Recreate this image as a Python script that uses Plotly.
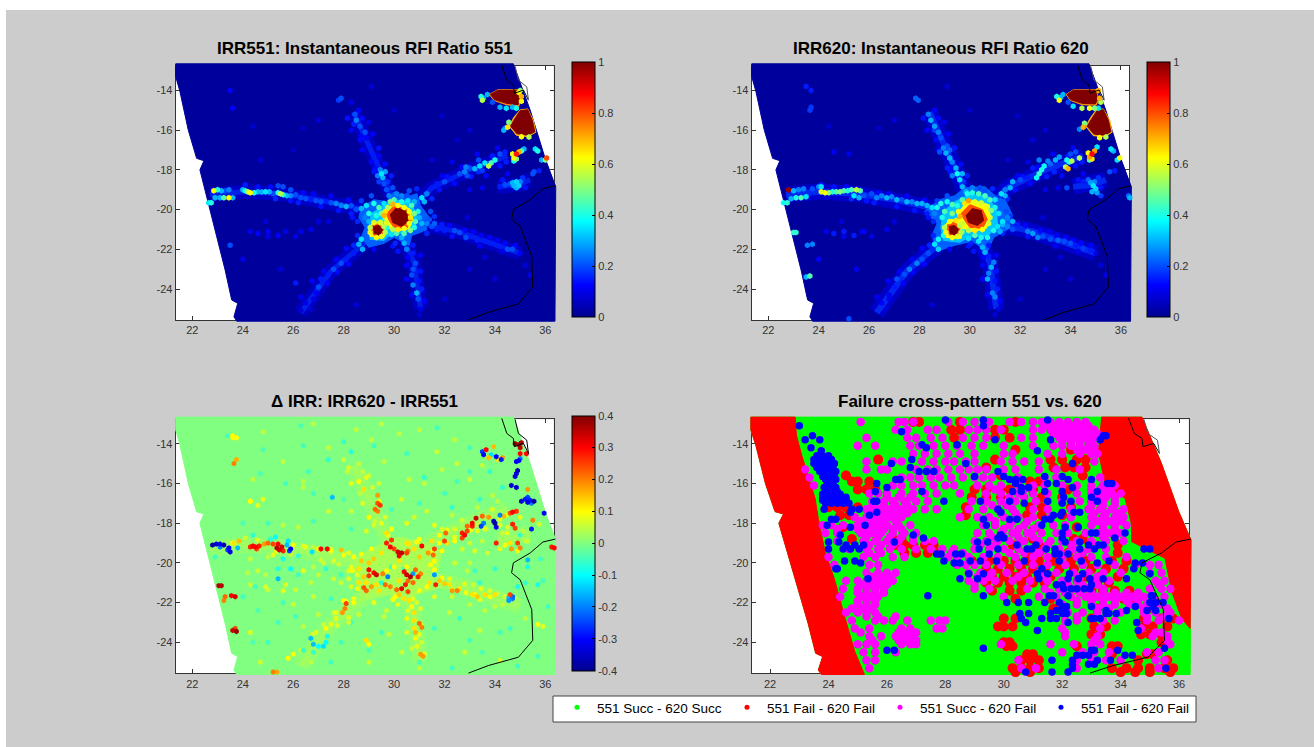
import plotly.graph_objects as go

# ---- geography / swath (lon, lat) ----
SWATH_X = [21.34,21.34,21.51,21.84,22.17,22.46,22.3,22.63,22.9,23.3,23.56,23.8,23.65,23.76,36.38,36.41,35.99,35.4,34.73,21.34]
SWATH_Y = [-12.66,-13.3,-14.07,-16,-17.42,-17.54,-18,-19.7,-21.03,-23.04,-24.55,-24.72,-25.4,-25.62,-25.62,-18.85,-17.42,-15,-12.66,-12.66]
BORDER_X = [36.4,35.9,35.4,34.73,34.66,35.0,35.46,35.5,34.93,33.74,32.95]
BORDER_Y = [-18.8,-18.95,-19.5,-20.0,-20.5,-20.85,-22.35,-23.9,-24.75,-25.17,-25.55]
COAST_A_X = [34.27,34.47,34.73,34.77,35.13,35.33]
COAST_A_Y = [-12.72,-13.48,-13.73,-14.15,-13.98,-14.49]
COAST_B_X = [34.8,34.93,35.26,35.33]
COAST_B_Y = [-12.78,-13.48,-13.82,-14.49]

# ---- diffuse interference rays (lon, lat) ----
RAY_W = [(22.7,-19.25),(24,-19.1),(25.5,-19.2),(27,-19.5),(28.8,-20)]
RAY_N = [(30,-19.6),(29.5,-18.2),(28.9,-16.4),(28.4,-15.1)]
RAY_NE = [(30.8,-19.8),(31.5,-18.9),(33,-18),(34.5,-17.3)]
RAY_SE = [(31,-20.7),(32.5,-21.1),(35,-22.2)]
RAY_S = [(30.3,-21.3),(30.8,-22.7),(31.05,-25)]
RAY_SW = [(29,-21.5),(27.5,-23.1),(26.3,-25.2)]
RAY_E = [(34.1,-18.85),(34.9,-18.75),(35.4,-18.5)]
RAYS = [RAY_W,RAY_N,RAY_NE,RAY_SE,RAY_S,RAY_SW,RAY_E]

# ---- contour patches: (colour, [(lon, lat), ...]) ----
PATCH_551 = [("#0060ff",[(28.7,-19.9),(29.2,-19.5),(29.7,-19.6),(30,-19.1),(30.4,-19.4),(30.9,-19.2),(31.05,-19.8),(31.4,-20.4),(31.1,-20.7),(31.15,-21.1),(30.7,-21.3),(30.6,-21.8),(30,-21.4),(29.6,-21.7),(29,-21.9),(28.7,-21.4),(28.85,-20.9),(28.6,-20.4)]),
("#00c8ff",[(29.1,-20.2),(29.5,-19.9),(30,-19.5),(30.6,-19.6),(30.9,-20.2),(30.85,-20.9),(30.4,-21.2),(29.9,-21.2),(29.6,-21.55),(29.05,-21.5),(29,-20.9)]),
("#ffff00",[(29.55,-20.2),(30,-19.65),(30.6,-19.95),(30.75,-20.5),(30.6,-20.95),(30.1,-21.1),(29.75,-20.9),(29.6,-21.4),(29.05,-21.35),(28.98,-20.9),(29.2,-20.65),(29.6,-20.6)]),
("#ff5000",[(29.7,-20.2),(30,-19.8),(30.5,-20),(30.7,-20.5),(30.5,-20.95),(30,-20.9),(29.8,-20.55)]),
("#ff5000",[(29.12,-20.8),(29.4,-20.7),(29.6,-20.95),(29.55,-21.25),(29.25,-21.35),(29.08,-21.1)]),
("#800000",[(29.85,-20.25),(30.1,-19.9),(30.5,-20.1),(30.55,-20.6),(30.3,-20.85),(29.95,-20.65)]),
("#800000",[(29.18,-20.85),(29.4,-20.8),(29.55,-21),(29.42,-21.3),(29.22,-21.2)]),
("#ff9000",[(33.78,-14.2),(34.1,-13.97),(34.9,-13.97),(35.02,-14.4),(34.95,-14.8),(34.45,-14.72),(33.95,-14.5)]),
("#800000",[(33.82,-14.2),(34.1,-14),(34.88,-14),(34.98,-14.4),(34.92,-14.72),(34.45,-14.65),(33.98,-14.46)]),
("#ffb000",[(34.75,-15.35),(35.0,-14.98),(35.3,-14.93),(35.52,-15.5),(35.62,-16.1),(35.3,-16.33),(34.85,-16.26),(34.57,-15.8)]),
("#800000",[(34.8,-15.4),(35.0,-15.02),(35.3,-14.97),(35.48,-15.5),(35.58,-16.08),(35.3,-16.26),(34.87,-16.18),(34.62,-15.8)])]
PATCH_620 = [("#0060ff",[(28.2,-20.1),(28.8,-19.5),(29.4,-19.3),(29.8,-18.9),(30.6,-18.85),(31.1,-19.4),(31.4,-19.5),(31.7,-20.3),(31.5,-21),(30.95,-21.4),(30.7,-22.1),(30.1,-21.6),(29.4,-21.8),(28.7,-22.1),(28.5,-21.3),(28.7,-20.7)]),
("#00c8ff",[(28.95,-20.1),(29.4,-19.6),(30,-19.25),(30.7,-19.3),(31.05,-20),(31.1,-20.8),(30.7,-21.35),(30,-21.35),(29.6,-21.65),(28.95,-21.55),(28.85,-20.9)]),
("#ffff00",[(29.5,-20.2),(29.95,-19.5),(30.65,-19.7),(30.85,-20.4),(30.65,-20.95),(30.1,-21.1),(29.75,-20.95),(29.65,-21.45),(29.05,-21.4),(28.95,-20.9),(29.2,-20.5),(29.6,-20.5)]),
("#ff5000",[(29.65,-20.2),(30,-19.75),(30.5,-20),(30.7,-20.5),(30.5,-20.95),(30,-20.9),(29.8,-20.55)]),
("#ff5000",[(29.12,-20.75),(29.4,-20.6),(29.6,-20.95),(29.55,-21.25),(29.25,-21.35),(29.08,-21.1)]),
("#800000",[(29.85,-20.3),(30.1,-19.95),(30.45,-20.05),(30.55,-20.55),(30.3,-20.8),(29.95,-20.65)]),
("#800000",[(29.18,-20.85),(29.4,-20.8),(29.55,-21),(29.42,-21.3),(29.22,-21.2)]),
("#ff9000",[(33.82,-14.2),(34.1,-13.97),(35.0,-13.97),(35.12,-14.4),(35.02,-14.75),(34.45,-14.72),(33.98,-14.5)]),
("#800000",[(33.86,-14.2),(34.1,-14),(34.98,-14),(35.08,-14.4),(34.98,-14.68),(34.45,-14.65),(34.0,-14.46)]),
("#ffb000",[(34.8,-15.35),(35.02,-14.98),(35.3,-14.93),(35.55,-15.5),(35.65,-16.1),(35.35,-16.33),(34.9,-16.28),(34.6,-15.8)]),
("#800000",[(34.85,-15.4),(35.05,-15.02),(35.3,-14.97),(35.5,-15.5),(35.6,-16.08),(35.33,-16.26),(34.92,-16.2),(34.66,-15.8)])]
PATCH_DELTA = [("#a8ff58",[(28.4,-19.8),(29.4,-19.1),(30.2,-18.7),(31,-18.9),(31.9,-19.4),(31.7,-20.6),(31.9,-21.2),(30.9,-21.6),(30.4,-21.9),(29.8,-21.6),(28.7,-21.9),(28.5,-21)])]

# ---- band speckle shared by the ratio maps: (lon, lat, ratio, delta) ----
SPECKLE = [(24.1,-18.75,.15,.06),(24.6,-18.85,.14,.07),(25.1,-18.85,.13,-.05),(25.3,-19.45,.16,.08),(25.9,-19.55,.14,.06),(26.4,-19.15,.13,.07),(26.2,-19.65,.15,-.06),(26.8,-19.2,.12,.05),(27.1,-19.85,.14,.06),(27.5,-19.3,.12,.07),(27.8,-20.05,.14,.06),(28.2,-19.5,.13,.08),(28.3,-20.2,.15,.08),
(29.2,-18.1,.14,.07),(29.25,-17.9,.13,.06),(29.75,-18.6,.17,.09),(29.9,-18.3,.15,.08),(29.65,-17.7,.13,.07),(29.4,-16.9,.14,.1),(28.75,-17,.12,.07),(28.65,-16.5,.13,.05),(29.15,-16.2,.12,.06),(28.3,-16,.12,.08),(28.15,-15.4,.14,.06),(28.75,-15.4,.13,.05),(28.6,-15,.12,.05),(29,-15.6,.1,.06),
(31.5,-19.45,.16,.09),(31.8,-19,.14,.1),(32.1,-18.35,.14,.09),(31.9,-18.3,.12,.07),(32.4,-18.7,.13,.08),(32.7,-17.85,.13,.06),(33.05,-18.35,.15,.09),(33.35,-18.1,.16,.07),(33.65,-18.3,.13,.06),(33.9,-17.3,.15,.07),(34.2,-17.8,.14,.08),(34.45,-17.6,.15,.08),(34.1,-16.9,.12,.05),(33.3,-17.2,.12,.05),(32.3,-17.6,.1,.05),
(31.6,-20.35,.17,.1),(31.9,-20.75,.15,.1),(32.2,-20.8,.13,.08),(32.3,-21.35,.14,.1),(32.8,-21.05,.13,.07),(33.15,-21.1,.12,.06),(33.45,-21.3,.12,.08),(33.4,-21.85,.12,.08),(33.8,-21.4,.12,.07),(34.1,-21.55,.12,.06),(34.4,-21.7,.13,.07),(34.8,-21.8,.12,.05),(34.3,-22.1,.1,.05),
(30.05,-21.7,.16,.1),(30.15,-22.1,.14,.08),(30.75,-21.8,.15,.08),(30.55,-22.4,.12,.07),(31.05,-22.3,.12,.07),(30.5,-22.8,.12,.08),(31.05,-23.1,.14,.09),(30.5,-23.5,.12,.07),(31,-23.6,.14,.08),(31.1,-24,.15,.06),(30.7,-24.3,.12,.06),(31.2,-24.6,.12,.08),(31,-25.3,.08,.05),
(28.55,-21.3,.16,.09),(28.4,-21.8,.16,.09),(28.1,-21.95,.13,.1),(28.2,-22.75,.13,.07),(27.7,-22.5,.12,.08),(27.75,-23.15,.13,.07),(27.2,-23.1,.12,.06),(27.35,-23.7,.12,-.08),(26.75,-23.6,.12,.06),(26.8,-24.5,.1,-.06),(26.3,-24.4,.1,.06),(26.7,-25,.08,.05),
(29.1,-19.3,.2,.1),(28.7,-19.55,.18,.09),(30.6,-19.05,.2,.12),(30.9,-18.95,.16,.1),(31.45,-20.1,.2,.1),(31.3,-21.2,.16,.1),(28.55,-20.6,.16,.08),(28.35,-20.4,.14,.09),(29.95,-21.85,.14,.1),(29.2,-22,.12,.08),
(35.1,-18.4,.17,.05),(35.2,-18.9,.14,.06),(34.5,-18.2,.12,.07),(34.3,-18.5,.14,.06),(35.75,-18.05,.15,.07),(33.5,-18.9,.1,.05),(33,-19,.1,.06),
(25,-21.35,.1,.06),(25.7,-21.1,.1,.07),(26.1,-21.35,.1,.06),(24.3,-21.1,.1,.05),(26.7,-21,.1,.05),(27,-20.6,.08,.05),(24.9,-20.6,.08,.05),(33.6,-22.4,.08,.05),(32.9,-20.4,.08,.05),(35.2,-22.8,.08,.05),(29.1,-13.8,.08,.05),(24.4,-15.8,.07,.05),(31.9,-15.3,.07,.05),(26.4,-15.9,.07,.05)]

# ---- IRR551 (lon, lat, ratio) ----
WEST_551 = [(22.85,-19.05,.62),(23.0,-19.0,.4),(23.15,-19.05,.3),(23.3,-19.05,.2),(23.45,-19.0,.25),(22.9,-19.4,.3),(23.1,-19.4,.3),(23.25,-19.4,.45),(23.45,-19.4,.62),(23.6,-19.4,.3),(22.75,-19.65,.4),(22.65,-19.65,.35),
(24.0,-19.0,.3),(24.1,-19.05,.4),(24.2,-19.1,.55),(24.3,-19.15,.62),(24.45,-19.15,.4),(24.6,-19.1,.3),(24.75,-19.12,.3),(24.9,-19.1,.35),(25.05,-19.1,.3),(25.2,-19.2,.2),(25.4,-19.15,.4),(25.5,-19.2,.55),(25.6,-19.25,.4),(25.75,-19.3,.3),(25.9,-19.3,.25),(25.6,-18.85,.2),(25.4,-18.8,.2),(25.9,-19.0,.2),(26.1,-19.25,.2),(26.3,-19.4,.2),(26.5,-19.45,.2),(26.7,-19.5,.15),(26.9,-19.55,.2),(27.1,-19.6,.2),(27.3,-19.6,.15),(27.5,-19.65,.2),(27.7,-19.7,.25),(27.9,-19.8,.25),(28.1,-19.85,.3),(28.3,-19.8,.2),(28.5,-20.0,.2),(28.7,-19.95,.3)]
HUB_551 = [(28.9,-19.8,.35),(29.0,-20.2,.4),(29.0,-20.6,.3),(28.85,-20.4,.25),(29.2,-19.7,.4),(29.4,-19.9,.45),(29.3,-20.3,.4),(29.5,-20.2,.5),(29.6,-19.7,.35),(29.85,-19.6,.5),(30.0,-19.5,.45),(30.3,-19.6,.4),(30.55,-19.55,.35),(30.7,-19.8,.45),(30.8,-20.2,.5),(30.95,-20.1,.4),(31.0,-20.4,.3),(30.85,-20.6,.45),(30.8,-20.9,.4),(30.65,-21.05,.5),(30.4,-21.2,.45),(30.1,-21.2,.45),(29.9,-21.25,.35),(29.7,-20.9,.4),(29.55,-20.6,.4),
(29.75,-19.9,.55),(29.95,-19.75,.7),(30.15,-19.8,.62),(30.4,-19.9,.62),(30.6,-20.1,.62),(30.65,-20.4,.65),(30.6,-20.7,.62),(30.4,-20.95,.62),(30.15,-21.0,.65),(29.95,-21.0,.55),(29.7,-20.65,.6),(29.6,-20.3,.7),(29.65,-20.1,.65),
(29.05,-20.9,.55),(29.05,-21.15,.6),(29.2,-20.65,.6),(29.45,-20.65,.6),(29.6,-20.85,.55),(29.65,-21.15,.55),(29.5,-21.35,.6),(29.3,-21.4,.62)]
NORTH_551 = [(29.8,-19.3,.25),(29.7,-19.0,.2),(29.6,-18.7,.2),(29.55,-18.4,.3),(29.5,-18.2,.35),(29.45,-18.0,.25),(29.3,-17.6,.15),(29.15,-17.2,.15),(29.0,-16.8,.15),(28.9,-16.4,.12),(28.85,-16.1,.2),(28.65,-15.8,.2),(28.5,-15.5,.25),(28.45,-15.2,.2),(28.3,-14.6,.1),(27.9,-14.4,.2),(27.8,-14.5,.18),(29.95,-18.9,.2),(30.1,-19.2,.25),(30.3,-19.3,.25),(30.5,-19.3,.2),(29.35,-18.3,.25),(29.65,-18.1,.28),(29.4,-18.6,.18),(29.1,-17.6,.12),(29.4,-17.3,.12),(28.7,-16.3,.12),(28.4,-15.7,.15)]
NEAST_551 = [(30.8,-19.6,.3),(31.1,-19.4,.35),(31.3,-19.2,.25),(31.2,-19.6,.3),(31.5,-18.9,.15),(31.7,-18.7,.15),(32.0,-18.6,.2),(32.3,-18.45,.15),(32.6,-18.2,.2),(32.8,-18.1,.25),(33.0,-17.9,.2),(33.2,-17.95,.3),(33.4,-17.8,.35),(33.6,-17.65,.35),(33.75,-17.8,.55),(33.85,-17.65,.45),(34.0,-17.5,.4),(34.2,-17.2,.2),(34.4,-17.1,.15),(32.85,-17.85,.25),(33.35,-17.5,.2),(32.9,-18.3,.2),(33.5,-18.05,.18)]
NECLUSTER_551 = [(34.75,-17.4,.62),(34.85,-17.2,.85),(34.95,-17.1,.7),(34.7,-17.2,.6),(34.85,-17.45,.5),(34.75,-17.55,.4),(35.05,-17.05,.45),(35.15,-16.95,.3),(35.6,-16.95,.35),(35.7,-17.05,.4),(35.85,-17.5,.3),(36.0,-17.5,.5),(36.05,-17.4,.8),(34.35,-16.0,.3),(34.4,-15.9,.25),(35.55,-18.1,.2),
(34.7,-18.65,.3),(34.85,-18.6,.33),(34.95,-18.8,.33),(34.85,-18.9,.3),(34.6,-18.7,.2),(34.4,-18.75,.2),(34.2,-18.85,.15),(35.5,-18.2,.2),(34.75,-18.8,.3),(35.0,-18.6,.25)]
BLOBS_551 = [(33.45,-14.3,.4),(33.5,-14.5,.55),(33.55,-14.4,.3),(33.7,-14.2,.3),(34.95,-14.1,.62),(35.0,-14.0,.5),(35.05,-14.3,.7),(35.05,-14.55,.62),(33.9,-14.6,.2),(34.2,-14.85,.3),(34.45,-14.9,.35),(34.7,-14.85,.3),(34.85,-14.9,.4),(34.55,-15.6,.5),(34.5,-15.85,.65),(35.05,-16.33,.62),(35.35,-16.35,.55)]
RAYS_551 = [(31.1,-20.7,.3),(31.3,-20.7,.25),(31.5,-20.85,.2),(31.7,-21,.15),(32,-21.05,.15),(32.4,-21.05,.2),(32.6,-21.15,.2),(32.85,-21.4,.2),(33.05,-21.35,.15),(33.3,-21.55,.15),(33.6,-21.6,.15),(33.9,-21.7,.15),(34.2,-21.85,.15),(34.5,-22,.2),(34.7,-22,.2),(35,-22.2,.12),(31.4,-20.5,.2),(31.6,-20.7,.22),(31.2,-20.95,.22),
(30.3,-21.4,.3),(30.4,-21.7,.3),(30.5,-22,.25),(30.75,-22.2,.15),(30.85,-22.7,.2),(30.75,-23,.2),(30.7,-23.3,.2),(30.75,-23.8,.25),(30.9,-24.2,.3),(30.95,-24.5,.2),(31.05,-25,.1),
(28.7,-21.5,.35),(28.6,-21.75,.3),(28.75,-22,.3),(28.4,-22.2,.15),(28.1,-22.5,.15),(27.9,-22.7,.2),(27.6,-23,.2),(27.4,-23.3,.15),(27.1,-23.5,.15),(27,-23.9,.2),(26.9,-24.2,.12),(26.5,-24.7,.1),(26.3,-25.1,.08),
(24.6,-21.2,.12),(25,-21.1,.12),(25.4,-21.3,.12),(23.5,-21.8,.2),(24,-22.5,.1),(26.1,-23.7,.15),(26.3,-21.1,.1),(27.4,-20.6,.08),
(23.5,-14,.12),(23.6,-14.9,.12),(27.0,-15.5,.08),(26,-17,.06),(31.5,-17.5,.08),(32.5,-16.5,.07),(33,-16,.08),(30,-15,.07),(33,-23,.08),(34,-23.5,.08),(35.4,-23.3,.1),(32,-24.5,.07),(28.5,-24.8,.08),(25.5,-23,.08),(24.7,-17.5,.07)]

# ---- IRR620 ----
WEST_620 = [(22.8,-19.0,.98),(23.0,-19.05,.3),(23.2,-19.0,.25),(23.4,-18.95,.25),(22.9,-19.45,.3),(23.1,-19.4,.4),(23.3,-19.4,.45),(23.5,-19.35,.35),(22.75,-19.65,.42),(22.6,-19.65,.38),(23.75,-18.95,.2),(24.0,-18.85,.25),(24.1,-18.85,.35),
(24.1,-19.1,.6),(24.25,-19.15,.62),(24.4,-19.15,.5),(24.55,-19.1,.4),(24.7,-19.1,.45),(24.85,-19.1,.5),(25.0,-19.05,.45),(25.15,-19.05,.4),(25.3,-19.0,.45),(25.5,-19.0,.55),(25.65,-19.05,.45),(25.4,-19.3,.35),(25.6,-19.4,.3),(25.8,-19.3,.2),(26.1,-19.2,.2),(26.3,-19.4,.25),(26.5,-19.3,.25),(26.7,-19.4,.3),(26.9,-19.35,.25),(27.1,-19.5,.3),(27.3,-19.5,.2),(27.5,-19.6,.3),(27.7,-19.6,.25),(27.9,-19.7,.3),(28.1,-19.7,.3),(28.3,-19.8,.3),(28.5,-19.9,.35),(28.7,-19.9,.4)]
HUB_620 = [(28.6,-20.2,.25),(28.85,-19.7,.4),(29.0,-20.1,.45),(28.9,-20.4,.4),(29.1,-19.6,.38),(29.3,-19.75,.45),(29.3,-20.2,.5),(29.5,-19.8,.4),(29.7,-19.5,.45),(29.9,-19.2,.4),(30.1,-19.15,.4),(30.35,-19.2,.45),(30.6,-19.3,.45),(30.8,-19.5,.45),(31.0,-19.9,.4),(31.15,-20.2,.35),(31.3,-20.6,.35),(31.1,-20.85,.35),(31.2,-21.1,.3),(30.95,-21.05,.4),(30.7,-21.4,.4),(30.45,-21.4,.4),(30.2,-21.3,.45),(29.95,-21.45,.35),(29.7,-21.1,.45),
(29.8,-19.7,.65),(29.95,-19.55,.72),(30.2,-19.6,.6),(30.45,-19.65,.58),(30.7,-19.85,.6),(30.85,-20.05,.5),(30.8,-20.4,.6),(30.75,-20.7,.58),(30.5,-21.0,.62),(30.2,-21.05,.65),(29.95,-21.05,.55),(29.7,-20.7,.58),(29.6,-20.35,.7),(29.55,-20.1,.62),
(29.0,-20.9,.55),(29.05,-21.15,.6),(29.2,-20.6,.62),(29.45,-20.55,.65),(29.6,-20.8,.55),(29.65,-21.15,.55),(29.5,-21.35,.6),(29.3,-21.4,.62),(28.95,-21.3,.4)]
NORTH_620 = [(29.85,-19.1,.3),(29.7,-18.85,.3),(29.6,-18.5,.35),(29.5,-18.2,.38),(29.45,-17.9,.3),(29.3,-17.6,.25),(29.2,-17.4,.3),(29.05,-17.15,.3),(28.95,-16.9,.25),(29.1,-16.8,.2),(28.85,-16.4,.2),(28.75,-16.1,.25),(28.6,-15.8,.28),(28.45,-15.5,.3),(28.35,-15.2,.25),(27.85,-14.4,.22),(27.95,-14.5,.22),(29.1,-17.9,.15),(30.1,-18.9,.25),(30.4,-18.9,.2),(29.3,-18.3,.25),(29.7,-18.2,.3),(29.2,-17,.22),(28.8,-17.1,.2),(28.6,-16,.18)]
NEAST_620 = [(31.0,-19.5,.35),(31.25,-19.2,.35),(31.4,-19.0,.25),(31.6,-18.9,.3),(31.7,-18.6,.3),(32.0,-18.5,.2),(32.3,-18.4,.15),(32.65,-18.4,.38),(32.75,-18.2,.42),(32.85,-18.0,.4),(32.95,-17.8,.38),(33.1,-17.55,.25),(32.75,-17.5,.25),(33.4,-17.5,.3),(33.55,-17.35,.28),(33.8,-17.85,.55),(33.9,-17.95,.7),(33.85,-17.5,.4),(34.05,-17.55,.55),(34.35,-17.4,.55),(34.2,-17.1,.2),(32.5,-17.9,.15),(33.2,-17.7,.22),(34.0,-17.2,.2),(31.4,-19.3,.3)]
NECLUSTER_620 = [(34.75,-17.35,.72),(34.85,-17.2,.88),(34.95,-17.05,.72),(34.7,-17.15,.62),(34.85,-17.45,.65),(34.75,-17.5,.45),(35.05,-16.85,.35),(35.6,-16.95,.35),(35.7,-17.05,.3),(35.85,-17.5,.35),(35.95,-17.4,.62),(34.35,-15.95,.25),(35.55,-18.1,.2),(33.95,-17.6,.4),
(34.8,-18.65,.28),(34.9,-18.8,.35),(35.0,-18.95,.33),(34.85,-19.1,.3),(34.7,-18.5,.22),(34.5,-18.6,.15),(33.85,-18.9,.2),(35.2,-19.3,.18),(36.35,-19.4,.3),(36.3,-19.3,.22),(34.95,-18.6,.25),(35.05,-19.15,.28)]
BLOBS_620 = [(33.45,-14.3,.4),(33.55,-14.5,.62),(33.6,-14.35,.3),(33.7,-14.2,.3),(35.1,-14.0,.7),(35.15,-14.4,.7),(35.2,-14.6,.55),(33.9,-14.6,.2),(34.1,-14.8,.35),(34.45,-14.9,.55),(34.75,-14.9,.62),(34.95,-14.9,.5),(35.1,-14.9,.35),(34.55,-15.65,.5),(34.5,-15.85,.7),(35.15,-16.38,.62),(35.4,-16.35,.55)]
RAYS_620 = [(31.3,-20.75,.3),(31.5,-20.85,.25),(31.7,-21,.2),(32.3,-21.1,.25),(32.5,-21.2,.28),(32.7,-21.4,.25),(32.9,-21.35,.2),(33.2,-21.5,.2),(33.5,-21.55,.22),(33.75,-21.6,.2),(34.0,-21.7,.2),(34.2,-21.8,.15),(34.5,-21.95,.18),(34.8,-22.05,.15),(35,-22.2,.1),(31.5,-20.4,.25),(31.7,-20.6,.3),
(30.35,-21.6,.35),(30.5,-21.9,.3),(30.6,-22.15,.3),(30.75,-22.35,.15),(30.95,-22.65,.25),(30.85,-22.9,.3),(30.75,-23.2,.25),(30.7,-23.5,.3),(30.9,-24.2,.25),(31,-24.4,.25),(31.15,-25,.1),
(28.75,-21.5,.38),(28.6,-21.75,.35),(28.75,-22,.33),(28.35,-22.2,.2),(28.1,-22.5,.2),(27.9,-22.7,.25),(27.6,-23,.25),(27.4,-23.25,.2),(27.1,-23.5,.2),(27,-23.9,.15),(26.8,-24.3,.1),(26.5,-24.7,.12),(25.2,-25.5,.2),
(23.0,-21.15,.42),(23.1,-21.15,.42),(23.55,-21.8,.25),(23.75,-21.75,.25),(23.5,-23.4,.3),(23.65,-23.35,.45),(24.0,-22.5,.12),(24.6,-21.2,.15),(25,-21.1,.15),(25.4,-21.3,.15),(25.8,-21.1,.12),
(23.5,-13.8,.15),(23.7,-14.0,.15),(23.7,-14.85,.18),(23.65,-15,.18),(24.6,-17.1,.12),(25.2,-17.2,.1),(27.0,-15.5,.08),(31.5,-17.5,.08),(32.5,-16.5,.08),(33,-16,.08),(30,-15,.07),(33,-23,.08),(34,-23.5,.08),(35.4,-23.3,.1),(32,-24.5,.07),(28.5,-24.8,.08),(25.5,-23,.1)]

# ---- Delta IRR ----
DELTA_HOT = [(22.8,-19.1,-.38),(22.95,-19.05,-.33),(23.1,-19.05,-.3),(23.25,-19.1,-.36),(23.1,-19.2,-.2),(23.4,-19.35,-.25),(23.5,-19.45,-.32),(23.45,-19.25,-.3),(23.8,-19.25,-.15),(23.6,-19.0,.1),(23.85,-18.9,.15),(23.65,-19.0,.12),
(24.3,-19.2,.27),(24.4,-19.15,.3),(24.5,-19.2,.3),(24.65,-19.15,.28),(24.55,-19.3,.25),(24.85,-19.05,.18),(25.0,-19.0,.22),(25.2,-19.05,.25),(25.4,-19.05,.3),(25.55,-19.2,.33),(25.35,-19.25,.35),(25.45,-19.35,.33),(25.6,-19.4,.28),(25.9,-19.3,-.3),(25.85,-19.4,-.25),(25.75,-19.1,-.15),(26.75,-19.45,-.12),(27.1,-19.3,.3),(27.35,-19.3,.3),(27.9,-19.35,.15),(23.05,-21.15,.36),(23.15,-21.15,.36),(23.3,-21.7,.22),(23.55,-21.65,.3),(23.7,-21.7,.33),(23.25,-21.9,.2),(23.6,-23.4,.34),(23.75,-23.45,.38),(23.7,-23.3,.25),(23.65,-15.0,.2),(23.75,-14.8,.16),(23.6,-13.7,.1),
(29.7,-19.0,.28),(29.85,-19.2,.3),(30.0,-19.3,.25),(29.9,-18.85,.26),(30.15,-19.45,.33),(30.3,-19.5,.35),(30.2,-19.65,.32),(30.5,-19.5,.25),(30.55,-19.4,.2),(31.1,-19.15,.3),(31.6,-19.3,.25),(31.55,-19.6,.22),(32.05,-18.5,.22),(32.0,-18.9,.25),(31.35,-19.5,.18),
(29.0,-20.35,.3),(29.2,-20.5,.3),(29.3,-20.6,.33),(29.55,-20.55,.2),(29.0,-20.65,.26),(29.75,-20.7,-.2),(30.4,-20.45,.3),(30.5,-20.6,.34),(30.65,-20.7,.36),(30.75,-20.55,-.18),(30.85,-20.35,.22),(30.95,-20.7,.28),(31.05,-20.55,.2),(31.6,-20.6,-.18),(31.65,-21.1,.28),(30.55,-20.9,.22),(30.3,-21.3,.32),(30.45,-21.1,.28),(30.75,-21.0,.22),(30.55,-21.45,.25),(28.8,-21.25,.24),(28.9,-21.4,.22),(29.1,-21.2,.18),(29.65,-21.1,.22),(29.85,-21.2,.2),(30.1,-21.35,.22),
(28.1,-22.05,.25),(28.05,-22.3,.2),(27.95,-22.5,.18),(31.0,-23.05,.22),(31.1,-23.25,.2),(30.85,-23.5,.16),(31.05,-24.6,.18),(31.15,-24.7,.18),(29.35,-17.0,.24),(29.45,-17.1,.26),(29.25,-17.3,.22),(29.35,-17.4,.2),(29.35,-16.6,.18),
(32.7,-18.5,.28),(32.8,-18.6,.3),(32.7,-18.75,.25),(32.9,-18.4,.25),(33.1,-18.0,.3),(33.25,-17.75,.34),(33.1,-18.15,.28),(32.9,-18.15,.22),(33.5,-17.65,.22),(33.75,-17.7,.18),(33.55,-18.0,-.2),(33.45,-18.15,-.25),(33.95,-17.9,-.35),(34.0,-18.0,-.38),(34.05,-18.2,-.32),(34.2,-17.6,-.2),(34.35,-17.65,.15),(34.6,-17.5,.24),(34.7,-17.45,.3),(34.85,-17.4,.26),(34.7,-18.05,.28),(34.8,-18.25,.25),(34.05,-19.0,.28),(35.5,-17.85,.2),(35.45,-18.3,-.28),(35.95,-17.5,-.3),
(35.2,-16.8,-.28),(35.3,-16.95,-.32),(35.4,-16.85,-.28),(35.05,-16.9,-.34),(35.55,-16.9,-.38),(35.3,-16.7,-.25),(35.45,-17.0,-.2),(35.3,-16.3,.18),
(34.65,-16.1,-.33),(34.85,-16.2,-.35),(34.85,-15.5,-.33),(34.9,-15.35,-.36),(34.8,-15.65,-.33),(34.85,-14.9,-.3),(34.95,-14.85,-.3),(35.0,-14.75,-.2),(35.0,-14.5,.3),(35.25,-14.5,.3),(34.8,-14.0,.38),(34.95,-14.05,.38),(35.05,-13.95,.36),(35.0,-14.2,.34),
(33.5,-14.4,-.25),(33.55,-14.55,-.3),(33.65,-14.3,.3),(33.85,-14.55,-.12),(34.05,-14.65,-.3),(34.25,-14.8,-.28),(33.95,-14.15,.15),(33.75,-14.7,.15),(34.3,-14.7,.18),(34.1,-14.8,.12),
(34.6,-21.6,.25),(34.55,-21.9,-.18),(34.7,-21.8,-.2),(34.7,-21.7,-.22),(34.55,-21.75,-.15),(34.0,-21.6,.12),(33.1,-21.6,.12),(33.3,-21.7,.14),(32.5,-21.4,.2),(32.3,-21.4,.18),(32.85,-21.5,.1),(36.35,-19.25,.3),(36.25,-19.2,.28),(35.0,-19.25,.2),(34.9,-19.0,.25),(34.65,-19.3,.18),(35.3,-19.85,-.15),(25.2,-25.5,.2),(25.35,-25.5,.17),
(26.7,-23.8,-.15),(26.8,-24.1,-.15),(27.3,-24.0,-.1),(27.2,-24.2,-.12),(27.0,-24.2,-.1),(25.4,-20.8,-.15),(27.55,-16.7,-.15),(24.3,-16.9,.1)]
DELTA_WARM = [(23.6,-13.6,.1),(23.75,-13.7,.1),(24.3,-16.9,.1),(24.6,-17.1,.08),(24.8,-16.8,.08),(28.6,-15.9,.1),(28.8,-16.3,.12),(28.9,-15.7,.08),(29.0,-17.7,.1),(29.5,-18,.08),(29.9,-18.3,.1),(29.7,-18.5,.12),(30.5,-18,.08),(31,-18.8,.1),(31.5,-18.9,.12),(31.8,-18.6,.1),(30.5,-19,.12),(30.8,-19.3,.12),(31,-19.7,.14),(30.2,-19.9,.12),(29.5,-19.5,.12),(29.2,-19.8,.14),(29,-20,.14),(28.7,-19.9,.14),(28.4,-19.7,.1),(28,-19.6,.1),(27.5,-19.4,.1),(27,-19.3,.1),(26.5,-19.2,.08),(26,-19.1,.1),(28.6,-20.3,.12),(28.8,-20.7,.14),(28.6,-21,.12),(28.9,-21,.12),(29.3,-21.1,.12),(29.4,-21.4,.12),(29.7,-20.4,.1),(30,-20.2,.1),(30.5,-20.2,.1),(30.2,-20.9,.12),(30.2,-21.6,.14),(30.4,-21.8,.12),(30.6,-21.9,.12),(30.7,-22.2,.1),(30.8,-22.5,.12),(30.8,-22.9,.12),(30.8,-23.3,.12),(30.85,-23.8,.1),(30.9,-24.2,.08),(31.4,-21,.12),(31.8,-20.9,.14),(32.0,-21.05,.14),(32.2,-21.1,.12),(32.6,-21.3,.12),(33.2,-21.6,.1),(33.6,-21.6,.12),(33.8,-21.7,.1),(31,-21.4,.1),(28.4,-22,.1),(28,-21.9,.1),(27.7,-22.8,.08),(27.5,-23.1,.08),(27.3,-23.3,.1),(26.9,-23.5,.08),(28.9,-23.9,.12),(29,-24.1,.1),(31.6,-19.9,.1),(31.9,-19.4,.1),(32.1,-19,.12),(32.4,-18.9,.1),(33.3,-18.4,.08),(33.6,-18.3,.08),(34.2,-18.1,.08),(34.5,-18.5,.08),(34.6,-19,.12),(34.4,-19.1,.1),(34.2,-19.3,.08),(34.9,-19.4,.1),(35,-17.7,.08),(25.2,-19.6,.08),(26.4,-20.4,.08),(27.6,-20.8,.06),(24.9,-21.2,.07),(25.6,-21.4,.08),(26,-22.1,.06),(26.8,-21.7,.06),(27.6,-22.5,.06),(29.6,-22.7,.06),(32.2,-22.5,.06),(33.4,-23.4,.06),(35.7,-23.1,.1),(35.9,-23.2,.08),(26,-24.6,.1),(25.8,-24.8,.1),(29,-25,.06),(32.8,-24.5,.06),(34.2,-24.9,.06),(24.3,-23.5,.07),(24.7,-25,.06),(26.8,-13,.05),(28,-14.8,.06),(28.5,-13.3,.05),(30.2,-13.5,.05),(31.7,-14.4,.06),(32.5,-15,.06),(32.4,-13.8,.05),(33,-15.8,.06),(30.6,-15.8,.06),(26.4,-16.2,.05),(27.4,-17.4,.06),(25.6,-18.1,.05),(30.3,-16.8,.07),(31.3,-17.4,.06),
(27.2,-20,.06),(27.6,-19.9,.07),(26.8,-20.2,.05),(28.2,-20.4,.08),(28.3,-21.2,.08),(27.9,-21,.06),(28.2,-20.8,.07),(30.9,-22,.07),(31.6,-21.7,.07),(32.3,-21.7,.06),(33,-22.1,.05),(34,-22.2,.05),(29.2,-22,.07),(29.7,-22.4,.06),(28.6,-22.6,.06),(28.2,-23,.06),(27,-22.6,.05),(26.4,-23.2,.05),(29.8,-23.6,.06),(30.3,-24.5,.06),(31.6,-18.1,.08),(32.4,-18.3,.07),(30.8,-17.7,.06),(28.9,-18.4,.07),(28.3,-17.4,.06),(29.4,-16,.06),(28.2,-15.2,.06),(26.2,-18.2,.05),(25,-19.7,.05),(24.3,-19.8,.05),(24.2,-20.5,.05),(24.6,-20.4,.06),(33.7,-19.5,.06),(33.2,-19.4,.07),(32.7,-19.3,.06),(33,-20,.05),(32.4,-20,.06),(35.3,-18.9,.06),(33.9,-16.6,.05),(33.5,-15.1,.05),(31.2,-16,.05),(29.6,-14.9,.05),(24.8,-13.4,.05),(25.6,-14.9,.05),(27.4,-14.2,.05),(29.5,-13,.05),(31,-13.3,.05)]
DELTA_COOL = [(23.4,-13.6,-.05),(24.8,-14.3,-.04),(26.4,-14.1,-.05),(28,-13.9,-.06),(28.3,-14.4,-.07),(30.5,-14.5,-.05),(31.7,-13.2,-.05),(33,-14.2,-.05),(33,-15.4,-.05),(24.7,-15.5,-.04),(25.7,-16,-.05),(26.8,-16.5,-.05),(28,-16.8,-.04),(31.2,-15.7,-.06),(32,-16.5,-.05),(33.4,-16.8,-.06),(34.3,-16.2,-.06),(24,-18,-.04),(25,-18,-.05),(26.8,-17.9,-.05),(28.3,-18.3,-.05),(31,-17,-.05),(32.3,-17.2,-.06),(25.6,-19.8,-.08),(25.9,-20.3,-.1),(25.4,-20.3,-.07),(26.2,-20.6,-.05),(24.5,-21.2,-.05),(27.3,-20.3,-.06),(27.9,-20.6,-.05),(29.6,-20.5,-.05),(29.5,-21,-.07),(29.9,-20.2,-.06),(30.4,-20.3,-.05),(27.5,-21.8,-.05),(26.1,-22.7,-.05),(25.4,-23,-.05),(24.6,-22.4,-.04),(25,-24,-.05),(26.4,-24.4,-.06),(27.9,-24,-.05),(28.3,-23,-.05),(29.5,-23.5,-.05),(31.6,-23.3,-.05),(32.6,-22.8,-.06),(33,-23.9,-.05),(33.4,-21,-.06),(34,-20.3,-.06),(33.2,-20.4,-.05),(34.9,-21.2,-.08),(35.7,-21.1,-.08),(35.3,-20.2,-.08),(35.9,-20.9,-.05),(36.1,-22.2,-.05),(34.6,-23.3,-.05),(35.7,-24.7,-.05),(32.3,-25.3,-.05),(34.9,-25.2,-.05),
(22.9,-19.7,-.05),(24.4,-18.6,-.06),(25.3,-18.7,-.1),(25.8,-18.9,-.12),(25.1,-18.8,-.07),(27.4,-14.8,-.06),(29.9,-17.3,-.05),(32.5,-15.9,-.05),(33.8,-15.4,-.06),(35,-18.6,-.06),(35.8,-19.8,-.05),(35.2,-21,-.06),(34.2,-23.5,-.05),(33.5,-24.5,-.04),(31,-25,-.04),(29,-24.4,-.04),(27.5,-25,-.05),(25.6,-22,-.05),(24,-21.7,-.05),(24.4,-24,-.04),(29.2,-14.1,-.05),(26.6,-15.4,-.05),(26.3,-13.1,-.04)]

# ---- Failure pattern: latitude rows of longitudes ----
RED_LEFT_X = [21.34,21.34,21.51,21.84,22.17,22.46,22.3,22.63,22.9,23.3,23.56,23.8,23.65,23.76,25.23,24.9,24.57,24.2,23.88,23.65,23.54,23.08,22.9,22.86,21.34]
RED_LEFT_Y = [-12.66,-13.3,-14.07,-16,-17.42,-17.54,-18,-19.7,-21.03,-23.04,-24.55,-24.72,-25.4,-25.62,-25.62,-24.47,-22.8,-20.8,-19.44,-17.76,-16.75,-14.57,-13.56,-12.66,-12.66]
RED_RIGHT_X = [33.35,33.24,33.47,34.15,34.38,34.38,34.84,35.52,35.75,36.09,36.38,36.41,35.99,35.4,34.73,33.35]
RED_RIGHT_Y = [-12.66,-14.4,-16.08,-16.75,-18.1,-18.93,-19.27,-19.77,-21.45,-22.8,-23.3,-18.85,-17.42,-15,-12.66,-12.66]
RED_ROWS = [(-12.9,[26.9,27.1,28.5,30.4]),(-13.3,[28.2,28.5,29.7,30,32.6]),(-13.7,[28.3,29.7,30.2]),(-14.3,[30.4,32.3,32.6]),(-14.8,[25.7,29.7,31.6,32,32.5,32.8]),(-15.2,[29.4,31.7,32.1,32.4,32.8]),(-15.6,[24.6,29.9,32.7]),(-15.9,[24.8,25,25.4,30.9,31.2]),(-16.3,[25,25.3,25.6,29,29.4,29.9,30.2,31,32.2]),(-16.7,[28.9,29.4,29.9,31.3,32]),(-17.2,[24,24.3,24.6,25,28.7,30.9,31.3,32.3]),(-17.6,[24.4,24.7,28.7,30.8,31.3,32]),(-18.2,[24.5,25.2,31.2,32.5]),(-18.8,[24.8,26.2,26.5,31,32.4,32.7]),(-19.1,[26.3,26.6,26.9,27.3,27.6,30.3,31.2,33.9]),(-19.5,[26.6,27,27.4,27.8,30.8,31.2,32.2,33.9]),(-19.9,[28.9,29.5,30,30.4,30.8,31.2,31.7,32.3,32.8,33.7,34.2]),(-20.3,[29.4,29.8,30.2,30.6,31,31.4,31.9,32.4,33,33.5,34.1]),(-20.7,[29.6,30,30.4,30.8,31.2,31.6,32.8,33.3,33.9]),(-21.0,[29.4,29.8,30.2,30.6,31,31.4,33.2,33.6]),(-21.4,[29.6,30.2,30.6,33,33.4,33.8,34.3]),(-21.8,[30.4,31.6,33,34.1,34.5]),(-22.3,[31.7,32,33.2,35.1]),(-22.8,[30,30.4,33,34.8,35.4,35.8]),(-23.2,[29.8,30,30.3,33.1,33.5,34.8,35.1,35.6]),(-23.6,[33,33.3,34.7,35,35.4]),(-24.0,[30,30.2,35.4]),(-24.2,[30.1,30.3,32.5,33.7,33.9]),(-24.6,[30.8,31,33.7,34.9,35.1]),(-24.9,[30.6,30.9,31.2,34.6,35.6]),(-25.3,[30.3,30.6,30.9,31.2,33.7,34.2,34.6,35,35.5,35.8]),(-25.5,[30.4,30.9,34,34.5,35,35.7])]
MAGENTA_ROWS = [(-12.9,[25.1,26.4,26.6,26.9,28.1,28.6,29,29.5,30.2,30.6,31,31.3,31.6,31.9,32.2,32.5,32.8]),(-13.3,[26.3,26.7,27.4,27.7,28.8,29.1,29.4,29.9,31,31.3,31.6,31.9,32.2,32.5,32.8,33.1]),(-13.7,[25.3,26.7,27,27.5,27.9,28.6,29,29.4,30.6,31,31.9,32.2,32.5,32.8,33.1]),(-14.1,[25,25.6,26.8,27.1,27.6,28,28.4,28.9,29.3,30,31,31.7,32,32.3,32.6,32.9,33.1]),(-14.5,[26.9,27.3,27.7,28.1,28.5,29,30,30.3,31.5,32,32.6,33,33.2]),(-14.9,[25.3,26.2,26.5,27.2,27.6,28,28.3,28.7,29,29.9,30.3,30.7,31.2,33.1]),(-15.3,[23.2,25.3,25.8,26,27,27.4,27.7,28.1,28.5,28.8,29.1,29.4,30,30.4,31.2,31.8,32.6]),(-15.7,[23.35,26.5,26.8,27.1,27.5,27.8,28.2,28.6,29,29.3,29.6,30.5,31.4,31.8,33.3]),(-16.1,[23.5,26.2,26.5,26.9,27.2,27.6,28,28.3,29.1,29.5,29.9,30.5,31,31.4,32,32.5,33,33.4,33.8]),(-16.5,[25.4,25.7,26,26.5,26.9,27.3,27.7,28.5,29.4,29.9,30.5,31,31.5,32.5,33,33.4,33.7,34]),(-16.9,[25.5,25.9,26.2,26.6,27,27.4,28.9,29.4,29.9,30.4,31.1,31.5,32,32.6,33,33.4,33.8]),(-17.3,[25.3,25.7,26.1,26.5,26.9,27.3,27.7,28.8,29.3,29.8,30.3,31,31.5,32.3,32.9,33.3,33.7,34.1]),(-17.7,[24.9,25.3,25.7,26.1,26.5,28.5,29.1,29.5,30,30.5,31,31.6,32.3,33,33.4,33.8,34.1]),(-18.1,[23.8,24.1,24.5,25,25.4,25.7,26,26.4,26.8,29.3,29.7,30.2,30.7,31.2,31.7,32.1,33,33.4,33.8,34.2]),(-18.5,[23.9,24.3,25.1,25.5,25.8,26.2,26.6,27,29.1,29.5,29.9,30.3,30.8,31.3,31.8,32.2,32.8,33.2,33.6,34]),(-18.9,[24.3,25.2,25.6,26,26.4,26.9,27.3,27.6,29,29.4,29.8,30.2,30.7,31.2,31.6,32,32.5,33,33.5,34.1]),(-19.3,[24.7,25.3,25.7,26.1,26.5,27,27.5,27.9,28.3,29,29.5,30,30.5,31,31.4,31.9,32.4,32.9,33.5]),(-19.7,[24,25.2,25.6,26.2,26.6,28.1,28.4,28.8,29.3,29.8,30.4,31,31.5,32,32.5,33,33.5,34.2]),(-20.1,[24.2,25.4,25.7,28.4,28.7,29,29.4,29.9,30.5,31,31.5,32.1,32.7,33.2,33.8,34.5,35,35.3]),(-20.5,[25.3,25.7,26,26.3,28.8,29.2,29.6,30.1,30.7,31.2,31.8,32.4,32.9,33.4,34,35,35.4]),(-20.9,[24.6,25,25.3,25.6,25.9,26.2,28.8,29.3,29.7,30.3,30.9,31.5,32,32.5,33.1,33.6,35.2,35.5]),(-21.3,[24.5,25,25.3,25.6,25.9,29,29.5,30.8,31.4,31.9,32.4,32.9,33.4,35,35.4,35.7]),(-21.7,[24.4,25.1,25.4,25.7,30,31.2,31.8,32.3,32.8,33.2,33.6,34,34.4,34.8,35.5]),(-22.1,[25,25.3,25.6,32,32.5,33,33.4,33.8,34.3,34.6,34.9,35.4]),(-22.5,[24.6,25,25.3,25.6,32.2,32.7,33.2,34,34.8,35.2,35.7]),(-22.9,[24.8,25.6,25.9,26.2,26.7,27.5,27.8,28,32.1,32.5,33.4,33.8,34.9,35.3,36]),(-23.3,[24.9,25.4,26.5,26.8,27.7,27.9,32,33.3,34.7]),(-23.7,[25.4,25.8,26.3,26.6,26.9,32.1,33.2,35.1,35.6]),(-24.1,[25,25.3,25.6,26.5,26.8,27,29.9,31.6,32.4,33,33.3,35.7]),(-24.5,[25.2,25.6,26.3,32,32.7,33.1,33.6,34.9,35.3]),(-24.9,[25.3,25.6,30.5,32.5,33,33.5,34,35.2,35.5]),(-25.3,[25.4,30.6,31.1,32.5,35.3])]
MAGENTA_FILL_ROWS = [(-13.1,[31.4,31.7,32,32.3,32.6,32.9]),(-13.5,[31.7,32,32.3,32.6,32.9,33.2]),(-13.9,[32,32.3,32.6,32.9,33]),(-14.3,[32.5,32.8,33.1]),(-16.3,[33,33.3,33.6,29.7,30.7]),(-16.7,[26,26.4,26.8,33.2,33.5,33.8,30.2,30.7]),(-17.1,[25.5,25.9,26.3,26.7,29.6,30.1,33,33.4,33.8]),(-17.5,[25.5,25.9,26.3,26.7,33.1,33.5,33.9,29.9,30.4]),(-17.9,[25.1,25.5,25.9,26.3,33.2,33.6,34,29.7,30.3,30.8]),(-18.3,[24.3,25,25.3,25.6,25.9,26.2,26.5,33.4,33.8,30,30.5,31]),(-18.7,[25.3,25.7,26.1,26.5,26.9,29.6,30,30.5,31,33.4,33.8]),(-19.1,[25.4,25.8,26.2,29.2,29.7,30.5,31.5,32.3,33.2]),(-19.5,[25.4,25.8,28.2,28.6,30.2,30.7,31.2,32.2,32.7]),(-20.7,[25.5,25.8,26.1,29.1,29.5,30.5,31.3,32.6,33.2]),(-21.1,[25.1,25.4,25.7,26,29,32.2,32.7,33.2,35.3]),(-21.5,[25,25.3,25.6,25.9,32.6,33,33.4,33.8,34.2,34.6,31.6,32.1]),(-21.9,[25,25.3,25.6,33,33.4,33.8,34.2,34.6,35.2,32.5]),(-22.3,[24.8,25.2,25.5,33.2,33.6,34.8,35.6]),(-22.7,[25.3,25.7,26.3,34.9,35.5,32.5]),(-23.5,[26.4,26.7,27,25.1,32.1,35.2,35.4]),(-23.9,[26.4,26.7,27,25.5,33.1,35.6])]
BLUE_ROWS = [(-12.8,[28,29.3,31.5]),(-13.1,[23,29.3]),(-13.4,[26.5]),(-13.6,[23.45,33.5,33.4]),(-13.8,[23.2,23.7,29.7,31.6,33.3]),(-14.05,[27.2,28.4]),(-14.2,[23.4,27.35]),(-14.35,[23.75,31.15]),(-14.6,[23.6,23.8,24]),(-14.8,[23.5,23.7,23.9,24.1,26.85]),(-15.0,[23.5,23.7,23.9,24.1,24.2,26.15,28.7,32.35]),(-15.2,[23.6,23.8,24,24.15,26.8]),(-15.4,[23.7,23.9,24.1,24.25,27.1,27.35,27.6,29.8]),(-15.65,[23.8,24,24.2,29,30,31.4,32]),(-15.8,[23.9,24.1,24.25,26.45,26.3,30.2,30.4,30.65,32.2,33]),(-16.0,[23.95,24.15,25.65,30.4,31.5,31.8,33.55,33.7]),(-16.2,[23.85,24.05,24.25,26,30.6,30.85,32.35]),(-16.4,[23.9,24.1,24.3,25.6,27.2,30.3,30.6,31.4,32,33.2]),(-16.55,[23.8,24,24.2,24.4]),(-16.7,[23.8,24,24.2,24.4,24.6,32.05,33]),(-16.85,[23.8,24,24.2,24.4,24.6]),(-16.9,[25.65,25.55,27.95,29.2,30.2,31.5,32.3,33.2]),(-17.0,[23.9,24.1,24.3,24.5,24.7,30.7,32]),(-17.3,[23.85,24.8,25.05,29.8]),(-17.45,[24.75,25.65,29.9,32,32.4,32.6]),(-17.6,[25.4,31.7,31.95]),(-17.8,[24.1,24.25,29.3,30.2,30.45,31.4,31.6]),(-18.1,[23.95,25.25,29.4,31.3]),(-18.2,[24.75,32.1,32.55]),(-18.5,[32,33,33.15,34.15]),(-18.6,[24.4,26.9,29.9,29.9]),(-18.75,[29.8,30,32,33.8,27.25]),(-18.95,[24,24.35,26.25,29.1,29.45,32.1,32.6]),(-19.1,[24.6,24.9,25.2,30.45,31.1,32.9,33.25,33.4]),(-19.3,[24,24.5,24.75,25.05,29.15,29.8,30.8,30.95,31.45,31.75,32.6,33.1,34.8,35]),(-19.55,[27.7,27.85,28.35,28.55,29.5,31.75,31.9,32.2]),(-19.9,[24.55,24.9,27.95,28.85,29.2,29.75,30.7,31.9,32.65,33.6]),(-20.0,[25.1,28.5,28.3,33.2,34.5,34.75]),(-20.3,[24.25,24.3,31.3,34.45]),(-20.55,[28.8,29.3,31.5,31.15,32.25,32.7,35.0]),(-20.8,[25.35,28.5,29.1,31.2,32.2,32.55,32.95,33.4,34.2]),(-21.1,[31.8,32,33]),(-21.3,[32.05,32.3,32.5,32.75,32.95]),(-21.65,[27.4,29.3,32.2,31.55,31.7,35.05,35.1]),(-22.0,[30.1,30.5,30.85,31.4,31.9,35,35.2,35.45]),(-22.2,[32,32.15,33,34.5,35.1]),(-22.4,[31.8,32,33.5,34.2,34.9,35.2]),(-22.55,[30.55,30.85,31.6,32,32.15,33.5,33.85,33.6]),(-22.8,[30.6,31.3,31.6,31.8,33,33.1,33.3,35.65]),(-23.0,[30.75,32.2,34.55]),(-23.4,[31.15,34.6]),(-24.3,[29.3,35.5]),(-24.4,[26,26.25,33,33.1,33.9]),(-24.65,[32.5,32.7,32.9,34.15,34.4]),(-24.9,[31.65,32.35,33.2,33.65]),(-25.1,[32.35,32.9,33.1]),(-25.3,[32.35,35.55]),(-25.5,[30.75,31.65,32.2])]

LEGEND_LABELS = ["551 Succ - 620 Succ","551 Fail - 620 Fail","551 Succ - 620 Fail","551 Fail - 620 Fail"]
LEGEND_COLORS = ["#00ff00","#ff0000","#ff00ff","#0000ff"]
LEGEND_WIDTHS = [125,108,116,125]
X_TICKS = [22,24,26,28,30,32,34,36]
Y_TICKS = [-14,-16,-18,-20,-22,-24]
CB_TICKS_A = [0,.2,.4,.6,.8,1]
CB_LABELS_A = ["0","0.2","0.4","0.6","0.8","1"]
CB_TICKS_B = [-.4,-.3,-.2,-.1,0,.1,.2,.3,.4]
CB_LABELS_B = ["-0.4","-0.3","-0.2","-0.1","0","0.1","0.2","0.3","0.4"]
TITLES = ["IRR551: Instantaneous RFI Ratio 551","IRR620: Instantaneous RFI Ratio 620","\u0394 IRR: IRR620 - IRR551","Failure cross-pattern 551 vs. 620"]

W, H = 1314, 747
PAD = 5
FONT = "Liberation Sans"
JET = [[0,"#00008f"],[.125,"#0000ff"],[.375,"#00ffff"],[.625,"#ffff00"],[.875,"#ff0000"],[1,"#800000"]]
GREY = "#cccccc"
AXES = [
    dict(l=175.7,r=553.7,t=66,b=320,xr=[21.34,36.33],yr=[-25.56,-12.77],cb=(571.7,62.3,317.3)),
    dict(l=751.7,r=1129.3,t=66,b=320,xr=[21.34,36.33],yr=[-25.56,-12.77],cb=(1147.3,62.3,317.3)),
    dict(l=175.7,r=553.7,t=419.3,b=673.3,xr=[21.34,36.33],yr=[-25.56,-12.77],cb=(571.7,415.7,670.7)),
    dict(l=751.7,r=1188.7,t=419.3,b=673.3,xr=[21.37,36.33],yr=[-25.56,-12.77],cb=None),
]

fig = go.Figure()
def frame(i, c):
    return c if i == 0 else f"{c}{i+1}"
def data(i, c):
    return f"{c}{i+5}"
def xy(i):
    return dict(xaxis=data(i,"x"),yaxis=data(i,"y"),showlegend=False,hoverinfo="skip")
def swath(i, color, x=SWATH_X, y=SWATH_Y):
    fig.add_trace(go.Scatter(x=x,y=y,mode="lines",fill="toself",fillcolor=color,line=dict(color=color,width=1),**xy(i)))
def bands(i, color_wide, width_wide, color_thin, width_thin, opacity=1):
    for c,w in [(color_wide,width_wide),(color_thin,width_thin)]:
        for ray in RAYS:
            fig.add_trace(go.Scatter(x=[p[0] for p in ray],y=[p[1] for p in ray],mode="lines",opacity=opacity,line=dict(color=c,width=w),**xy(i)))
def patches(i, items):
    for color,pts in items:
        fig.add_trace(go.Scatter(x=[p[0] for p in pts]+[pts[0][0]],y=[p[1] for p in pts]+[pts[0][1]],mode="lines",fill="toself",fillcolor=color,line=dict(color=color,width=1),**xy(i)))
def values(i, groups, size, cmin, cmax, ticks, labels):
    pts = sorted([p for g in groups for p in g], key=lambda p: abs(p[2]))
    cb = AXES[i]["cb"]
    fig.add_trace(go.Scatter(x=[p[0] for p in pts],y=[p[1] for p in pts],mode="markers",
        marker=dict(symbol="hexagon",size=size,color=[p[2] for p in pts],cmin=cmin,cmax=cmax,colorscale=JET,line=dict(width=0),
            colorbar=dict(x=cb[0]/W,xanchor="left",xpad=0,ypad=0,y=1-cb[2]/H,yanchor="bottom",thickness=23,thicknessmode="pixels",
                len=cb[2]-cb[1],lenmode="pixels",outlinecolor="#000",outlinewidth=1,tickvals=ticks,ticktext=labels,ticks="inside",ticklen=3,tickcolor="#000",
                tickfont=dict(family=FONT,size=11,color="#333"))),**xy(i)))
def lines(i, dark=False):
    for xs,ys,c in [(BORDER_X,BORDER_Y,"#000"),(COAST_A_X,COAST_A_Y,"#000"),(COAST_B_X,COAST_B_Y,"#000" if dark else "#555")]:
        fig.add_trace(go.Scatter(x=xs,y=ys,mode="lines",line=dict(color=c,width=1),**xy(i)))
def expand(rows):
    xs=[];ys=[]
    for y,row in rows:
        for x in row:
            xs.append(x);ys.append(y)
    return xs,ys

for i in range(4):
    fig.add_trace(go.Scatter(x=[None],y=[None],mode="markers",xaxis=frame(i,"x"),yaxis=frame(i,"y"),showlegend=False,hoverinfo="skip"))

RATIO_SPECKLE = [(s[0],s[1],s[2]) for s in SPECKLE]
DELTA_SPECKLE = [(s[0],s[1],s[3]) for s in SPECKLE]
swath(0,"#00009c")
bands(0,"#0000c4",14,"#0020e8",5)
patches(0,PATCH_551)
values(0,[RATIO_SPECKLE,WEST_551,HUB_551,NORTH_551,NEAST_551,NECLUSTER_551,BLOBS_551,RAYS_551],6,0,1,CB_TICKS_A,CB_LABELS_A)
lines(0)
swath(1,"#00009c")
bands(1,"#0000cc",16,"#0028f0",6)
patches(1,PATCH_620)
values(1,[RATIO_SPECKLE,WEST_620,HUB_620,NORTH_620,NEAST_620,NECLUSTER_620,BLOBS_620,RAYS_620],6,0,1,CB_TICKS_A,CB_LABELS_A)
lines(1)
swath(2,"#80ff80")
bands(2,"#90ff70",16,"#a0ff60",6)
patches(2,PATCH_DELTA)
values(2,[DELTA_SPECKLE,DELTA_COOL,DELTA_WARM,DELTA_HOT],5.5,-.4,.4,CB_TICKS_B,CB_LABELS_B)
lines(2,True)

swath(3,"#00ff00")
swath(3,"#ff0000",RED_LEFT_X,RED_LEFT_Y)
swath(3,"#ff0000",RED_RIGHT_X,RED_RIGHT_Y)
for rows,c,s in [(RED_ROWS,"#ff0000",10),(MAGENTA_ROWS+MAGENTA_FILL_ROWS,"#ff00ff",8.5),(BLUE_ROWS,"#0000ff",7.5)]:
    xs,ys = expand(rows)
    fig.add_trace(go.Scatter(x=xs,y=ys,mode="markers",marker=dict(color=c,size=s,line=dict(width=0)),**xy(3)))
lines(3)
for name,c,lw in zip(LEGEND_LABELS,LEGEND_COLORS,LEGEND_WIDTHS):
    fig.add_trace(go.Scatter(x=[None],y=[None],mode="markers",name=name,marker=dict(color=c,size=5),xaxis="x8",yaxis="y8",showlegend=True,legendwidth=lw))

shapes = [dict(type="rect",xref="paper",yref="paper",x0=0,x1=6/W,y0=0,y1=1,fillcolor="#ffffff",line=dict(width=0),layer="below"),
          dict(type="rect",xref="paper",yref="paper",x0=0,x1=1,y0=1-10/H,y1=1,fillcolor="#ffffff",line=dict(width=0),layer="below"),
          dict(type="rect",xref="paper",yref="paper",x0=553/W,x1=1196/W,y0=1-722/H,y1=1-696/H,fillcolor="#ffffff",line=dict(width=1,color="#444"),layer="below")]
layout = dict(width=W,height=H,margin=dict(l=0,r=0,t=0,b=0,autoexpand=False),paper_bgcolor=GREY,plot_bgcolor="rgba(0,0,0,0)",
    font=dict(family=FONT,color="#000"),
    legend=dict(orientation="h",x=557/W,y=1-692/H,xanchor="left",yanchor="top",bgcolor="rgba(0,0,0,0)",borderwidth=0,
        font=dict(family=FONT,size=13.5,color="#000"),itemsizing="trace"),
    shapes=shapes,annotations=[])
for i,a in enumerate(AXES):
    shapes.append(dict(type="rect",xref="paper",yref="paper",x0=a["l"]/W,x1=a["r"]/W,y0=1-a["b"]/H,y1=1-a["t"]/H,fillcolor="#ffffff",line=dict(width=0),layer="below"))
    axis = dict(showgrid=False,zeroline=False,showline=True,linecolor="#333",linewidth=1,mirror="ticks",ticks="inside",ticklen=4,tickcolor="#333",
        tickfont=dict(family=FONT,size=11,color="#333"))
    fx = "xaxis" if i==0 else f"xaxis{i+1}"
    fy = "yaxis" if i==0 else f"yaxis{i+1}"
    layout[fx] = dict(axis,domain=[a["l"]/W,a["r"]/W],range=a["xr"],tickvals=X_TICKS,ticktext=[str(v) for v in X_TICKS],anchor=frame(i,"y"))
    layout[fy] = dict(axis,domain=[1-a["b"]/H,1-a["t"]/H],range=a["yr"],tickvals=Y_TICKS,ticktext=[str(v) for v in Y_TICKS],anchor=frame(i,"x"))
    ex = (a["xr"][1]-a["xr"][0])*PAD/(a["r"]-a["l"])
    ey = (a["yr"][1]-a["yr"][0])*PAD/(a["b"]-a["t"])
    layout[f"xaxis{i+5}"] = dict(visible=False,domain=[(a["l"]-PAD)/W,(a["r"]+PAD)/W],range=[a["xr"][0]-ex,a["xr"][1]+ex],anchor=data(i,"y"))
    layout[f"yaxis{i+5}"] = dict(visible=False,domain=[1-(a["b"]+PAD)/H,1-(a["t"]-PAD)/H],range=[a["yr"][0]-ey,a["yr"][1]+ey],anchor=data(i,"x"))
    layout["annotations"].append(dict(text=f"<b>{TITLES[i]}</b>",xref="paper",yref="paper",x=(a["l"]+a["r"])/2/W,y=1-(a["t"]-18)/H,
        xanchor="center",yanchor="middle",showarrow=False,font=dict(family=FONT,size=17,color="#000")))
fig.update_layout(**layout)
fig.write_html("out.html", post_script="document.body.style.margin='0';", config={"displayModeBar":False})
